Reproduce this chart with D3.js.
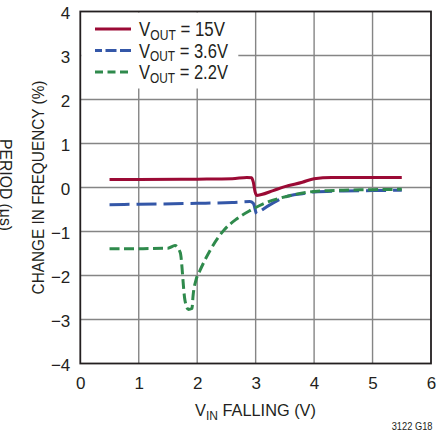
<!DOCTYPE html>
<html><head><meta charset="utf-8">
<script src="https://cdn.jsdelivr.net/npm/d3@7"></script>
<style>
html,body{margin:0;padding:0;background:#fff;}
text{font-family:"Liberation Sans",Arial,sans-serif;fill:#231f20;}
</style></head><body>
<svg id="c" width="446" height="432"></svg>
<script>
const xTicks = [0,1,2,3,4,5,6];
const yTicks = [-4,-3,-2,-1,0,1,2,3,4];
const seriesNames = ["15V","3.6V","2.2V"];
const red15 = [[0.5,0.18],[1,0.18],[2,0.19],[2.6,0.2],[2.85,0.23],[2.93,0.22],[2.96,0.12],[2.99,-0.1],[3.02,-0.18],[3.1,-0.16],[3.3,-0.07],[3.5,0.02],[3.8,0.12],[4.0,0.2],[4.3,0.23],[5.5,0.23]];
const blue36 = [[0.5,-0.39],[1,-0.38],[2,-0.36],[2.6,-0.34],[2.9,-0.32],[2.96,-0.36],[3.02,-0.6],[3.1,-0.52],[3.3,-0.35],[3.5,-0.22],[3.8,-0.14],[4,-0.1],[4.5,-0.08],[5,-0.07],[5.5,-0.06]];
const green22 = [[0.5,-1.39],[1,-1.39],[1.5,-1.38],[1.62,-1.32],[1.71,-1.48],[1.79,-2.56],[1.85,-2.77],[1.91,-2.75],[1.93,-2.45],[1.98,-2.1],[2.05,-1.88],[2.22,-1.43],[2.45,-0.98],[2.68,-0.71],[2.91,-0.52],[3.13,-0.37],[3.42,-0.24],[3.7,-0.15],[4,-0.09],[4.5,-0.06],[5,-0.05],[5.5,-0.04]];

const svg = d3.select("#c");
const x = d3.scaleLinear().domain([0,6]).range([80.3,431]);
const y = d3.scaleLinear().domain([-4,4]).range([363.5,11.5]);

function fitText(parent, tx, ty, rot, anchor, size, targetW, build){
  const g = parent.append("g");
  const t = g.append("text").attr("font-size",size).attr("text-anchor",anchor);
  build(t);
  const w = t.node().getBBox().width || targetW;
  const s = targetW / w;
  g.attr("transform",`translate(${tx},${ty}) rotate(${rot}) scale(${s},1)`);
  return g;
}

// grid
const g = svg.append("g");
g.selectAll(".gx").data(xTicks.slice(1,-1)).enter().append("line")
 .attr("x1",d=>x(d)).attr("x2",d=>x(d)).attr("y1",y(4)).attr("y2",y(-4))
 .attr("stroke","#858585").attr("stroke-width",1.4);
g.selectAll(".gy").data(yTicks.slice(1,-1)).enter().append("line")
 .attr("y1",d=>y(d)).attr("y2",d=>y(d)).attr("x1",x(0)).attr("x2",x(6))
 .attr("stroke","#858585").attr("stroke-width",1.4);

// legend background
svg.append("rect").attr("x",x(0)+1).attr("y",y(4)+1).attr("width",157).attr("height",76).attr("fill","#fff");

// border
svg.append("rect").attr("x",x(0)).attr("y",y(4)).attr("width",x(6)-x(0)).attr("height",y(-4)-y(4))
 .attr("fill","none").attr("stroke","#231f20").attr("stroke-width",1.8);

// axes
const xa = svg.append("g").attr("transform",`translate(0,${y(-4)})`)
 .call(d3.axisBottom(x).tickValues(xTicks).tickSize(0).tickPadding(0).tickFormat(d3.format("d")));
xa.select(".domain").remove();
xa.selectAll("text").attr("font-size",17).attr("dy",null).attr("y",25).style("font-family",'"Liberation Sans",Arial,sans-serif').attr("fill","#231f20");
const ya = svg.append("g").attr("transform",`translate(${x(0)},0)`)
 .call(d3.axisLeft(y).tickValues(yTicks).tickSize(0).tickPadding(10).tickFormat(d=>d<0?"\u2212"+Math.abs(d):d));
ya.select(".domain").remove();
ya.selectAll("text").attr("font-size",17).attr("dy","0.42em").style("font-family",'"Liberation Sans",Arial,sans-serif').attr("fill","#231f20");

// lines
const line = d3.line().x(d=>x(d[0])).y(d=>y(d[1])).curve(d3.curveMonotoneX);
const styles = [
 {data:red15,color:"#9b0a35",dash:null,legDash:null,legOff:0},
 {data:blue36,color:"#3457a8",dash:"20,7",legDash:"11,3.5",legOff:4},
 {data:green22,color:"#2f8a4c",dash:"10,4.5",legDash:"8,4.5",legOff:0}
];
styles.forEach(s=>{
 svg.append("path").attr("d",line(s.data)).attr("fill","none").attr("stroke",s.color)
  .attr("stroke-width",3).attr("stroke-dasharray",s.dash);
});

// legend
const leg = svg.append("g");
const legW = [86,89,89];
styles.forEach((s,i)=>{
 const ly = 29+i*21.5;
 leg.append("line").attr("x1",95).attr("x2",131).attr("y1",ly).attr("y2",ly)
  .attr("stroke",s.color).attr("stroke-width",3).attr("stroke-dasharray",s.legDash)
  .attr("stroke-dashoffset",s.legOff);
 fitText(leg,139,ly+7,0,"start",19.5,legW[i],t=>{
   t.append("tspan").text("V");
   t.append("tspan").attr("font-size",14).attr("dy",3.5).text("OUT");
   t.append("tspan").attr("dy",-3.5).text(" = "+seriesNames[i]);
 });
});

// axis titles
fitText(svg,44,187.5,-90,"middle",17,214,t=>t.text("CHANGE IN FREQUENCY (%)"));
fitText(svg,0,185,90,"middle",17,92,t=>t.text("PERIOD (\u03bcs)"));
fitText(svg,255.5,415.7,0,"middle",17,121,t=>{
  t.append("tspan").text("V");
  t.append("tspan").attr("font-size",12.5).attr("dy",4).text("IN");
  t.append("tspan").attr("dy",-4).text(" FALLING (V)");
});
fitText(svg,432.5,430,0,"end",10.5,41,t=>t.text("3122 G18"));
</script>
</body></html>
